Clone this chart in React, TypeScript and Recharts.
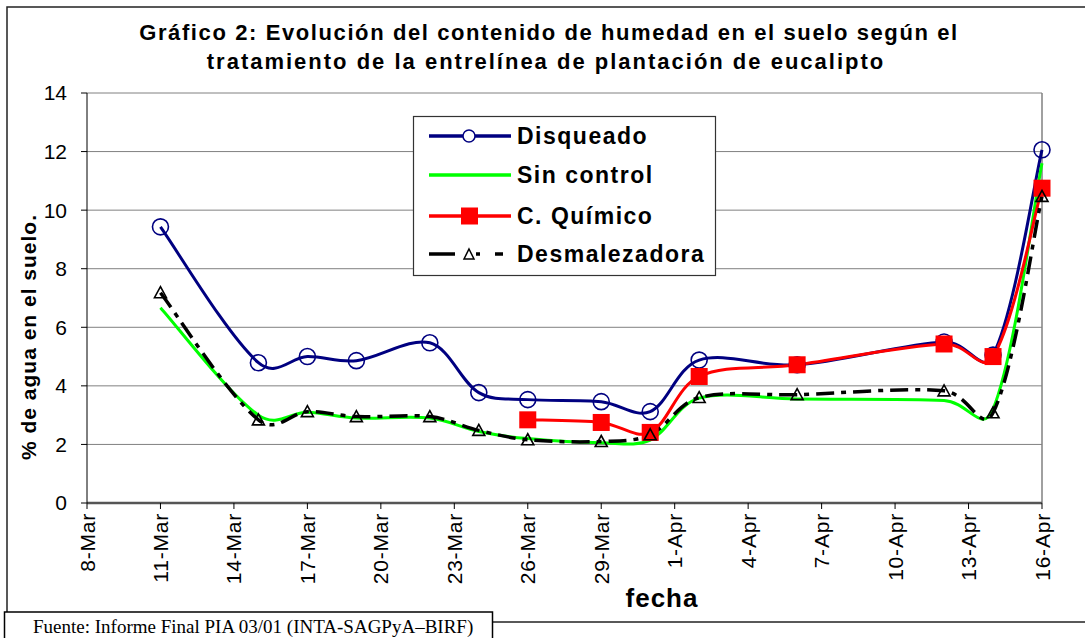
import React from 'react';
import { LineChart, Line, XAxis, YAxis, CartesianGrid, ReferenceLine } from 'recharts';

// fechas de muestreo y % de humedad por tratamiento
const fechas = ['11-Mar', '15-Mar', '17-Mar', '19-Mar', '22-Mar', '24-Mar', '26-Mar', '29-Mar', '31-Mar', '2-Apr', '6-Apr', '12-Apr', '14-Apr', '16-Apr'];
const disqueado = [9.43, 4.79, 5.0, 4.86, 5.47, 3.77, 3.53, 3.46, 3.12, 4.88, 4.72, 5.5, 5.05, 12.06];
const sinControl = [6.67, 3.0, 3.1, 2.9, 2.9, 2.44, 2.2, 2.06, 2.15, 3.58, 3.55, 3.5, 3.2, 11.6];
const quimico = [null, null, null, null, null, null, 2.84, 2.75, 2.41, 4.32, 4.72, 5.43, 5.0, 10.75];
const desmalezadora = [7.18, 2.84, 3.12, 2.95, 2.95, 2.48, 2.16, 2.1, 2.33, 3.6, 3.7, 3.83, 3.08, 10.47];

const xTickLabels = ['8-Mar', '11-Mar', '14-Mar', '17-Mar', '20-Mar', '23-Mar', '26-Mar', '29-Mar', '1-Apr', '4-Apr', '7-Apr', '10-Apr', '13-Apr', '16-Apr'];
const yTicks = [0, 2, 4, 6, 8, 10, 12, 14];
const nombres = ['Disqueado', 'Sin control', 'C. Químico', 'Desmalezadora'];

const ARIAL = 'Arial, "Liberation Sans", sans-serif';
const TIMES = '"Times New Roman", "Liberation Serif", serif';

// dias desde el 8-Mar
const toDay = (f: string) => {
  const [d, m] = f.split('-');
  return m === 'Mar' ? Number(d) - 8 : Number(d) + 23;
};

const data = fechas.map((f, i) => ({
  dia: toDay(f),
  disqueado: disqueado[i],
  sinControl: sinControl[i],
  quimico: quimico[i],
  desmalezadora: desmalezadora[i],
}));

// curva suavizada parecida a la de Excel
const excelSmooth = (context: any) => {
  let pts: number[][] = [];
  const dist = (a: number[], b: number[]) => Math.hypot(b[0] - a[0], b[1] - a[1]);
  return {
    areaStart() {},
    areaEnd() {},
    lineStart() {
      pts = [];
    },
    point(x: number, y: number) {
      pts.push([+x, +y]);
    },
    lineEnd() {
      const n = pts.length;
      if (!n) return;
      context.moveTo(pts[0][0], pts[0][1]);
      for (let i = 0; i < n - 1; i++) {
        const p0 = pts[Math.max(i - 1, 0)];
        const p1 = pts[i];
        const p2 = pts[i + 1];
        const p3 = pts[Math.min(i + 2, n - 1)];
        const d01 = dist(p0, p1);
        const d12 = dist(p1, p2);
        const d23 = dist(p2, p3);
        const f1 = i === 0 ? 1 / 6 : (1 / 6 + d12 / (d01 + d12) / 3) / 2;
        const f2 = i === n - 2 ? 1 / 6 : (1 / 6 + d12 / (d12 + d23) / 3) / 2;
        context.bezierCurveTo(
          p1[0] + (p2[0] - p0[0]) * f1,
          p1[1] + (p2[1] - p0[1]) * f1,
          p2[0] - (p3[0] - p1[0]) * f2,
          p2[1] - (p3[1] - p1[1]) * f2,
          p2[0],
          p2[1]
        );
      }
    },
  };
};

const CircleDot = (props: any) => {
  const { cx, cy, index } = props;
  if (cx == null || cy == null) return <g key={`c-${index}`} />;
  return <circle key={`c-${index}`} cx={cx} cy={cy} r={8} fill="none" stroke="#000080" strokeWidth={1.6} />;
};

const SquareDot = (props: any) => {
  const { cx, cy, index } = props;
  if (cx == null || cy == null) return <g key={`s-${index}`} />;
  return <rect key={`s-${index}`} x={cx - 8.5} y={cy - 8.5} width={17} height={17} fill="#FF0000" />;
};

const TriangleDot = (props: any) => {
  const { cx, cy, index } = props;
  if (cx == null || cy == null) return <g key={`t-${index}`} />;
  return (
    <path
      key={`t-${index}`}
      d={`M${cx},${cy - 6} L${cx + 6},${cy + 5} L${cx - 6},${cy + 5} Z`}
      fill="none"
      stroke="#000"
      strokeWidth={1.6}
    />
  );
};

const FechaTick = ({ x, y, payload }: any) => {
  const label = xTickLabels.find((t) => toDay(t) === payload.value) || '';
  return (
    <text
      x={x}
      y={y}
      transform={`rotate(-90 ${x} ${y})`}
      textAnchor="end"
      dy="0.36em"
      fontFamily={ARIAL}
      fontSize={21}
      letterSpacing={0.8}
      fill="#000"
    >
      {label}
    </text>
  );
};

const legendRows = [
  { y: 136, color: '#000080', dash: undefined, marker: 'circle' },
  { y: 175, color: '#00FF00', dash: undefined, marker: 'none' },
  { y: 216, color: '#FF0000', dash: undefined, marker: 'square' },
  { y: 254, color: '#000', dash: '26 21 4 15 8 100', marker: 'triangle' },
];

const App: React.FC = () => {
  return (
    <div style={{ position: 'absolute', left: 0, top: 0, width: 1085, height: 638, background: '#fff', overflow: 'hidden' }}>
      <LineChart width={1085} height={638} data={data} margin={{ top: 93, right: 43, bottom: 75, left: 27 }}>
        <CartesianGrid horizontal vertical={false} stroke="#808080" strokeWidth={1} />
        <XAxis
          type="number"
          dataKey="dia"
          domain={[0, 39]}
          ticks={xTickLabels.map(toDay)}
          tick={<FechaTick />}
          tickSize={6}
          tickMargin={4}
          height={60}
          axisLine={{ stroke: '#555', strokeWidth: 2.5 }}
          tickLine={{ stroke: '#000' }}
          interval={0}
        />
        <YAxis
          type="number"
          domain={[0, 14]}
          ticks={yTicks}
          width={60}
          tickSize={6}
          tickMargin={14}
          tick={{ fontFamily: ARIAL, fontSize: 21, fill: '#000' }}
          axisLine={{ stroke: '#000' }}
          tickLine={{ stroke: '#000' }}
          interval={0}
        />
        <ReferenceLine x={39} stroke="#808080" strokeWidth={1.5} />
        <Line
          dataKey="disqueado"
          name={nombres[0]}
          type={excelSmooth as any}
          stroke="#000080"
          strokeWidth={3}
          dot={CircleDot}
          activeDot={false}
          isAnimationActive={false}
        />
        <Line
          dataKey="sinControl"
          name={nombres[1]}
          type={excelSmooth as any}
          stroke="#00FF00"
          strokeWidth={3}
          dot={false}
          activeDot={false}
          isAnimationActive={false}
        />
        <Line
          dataKey="quimico"
          name={nombres[2]}
          type={excelSmooth as any}
          stroke="#FF0000"
          strokeWidth={3}
          dot={SquareDot}
          activeDot={false}
          connectNulls
          isAnimationActive={false}
        />
        <Line
          dataKey="desmalezadora"
          name={nombres[3]}
          type={excelSmooth as any}
          stroke="#000"
          strokeWidth={3.5}
          strokeDasharray="18 7 5 7"
          dot={TriangleDot}
          activeDot={false}
          isAnimationActive={false}
        />
      </LineChart>

      <svg width={1085} height={638} style={{ position: 'absolute', left: 0, top: 0, pointerEvents: 'none' }}>
        {/* marco del grafico */}
        <rect x={7} y={7} width={1100} height={615} fill="none" stroke="#222" strokeWidth={1.5} />

        <text x={549} y={40} textAnchor="middle" fontFamily={ARIAL} fontWeight="bold" fontSize={22} letterSpacing={1.6} fill="#000">
          Gráfico 2: Evolución del contenido de humedad en el suelo según el
        </text>
        <text x={546} y={69} textAnchor="middle" fontFamily={ARIAL} fontWeight="bold" fontSize={22} letterSpacing={2} fill="#000">
          tratamiento de la entrelínea de plantación de eucalipto
        </text>

        <text
          x={36}
          y={337}
          transform="rotate(-90 36 337)"
          textAnchor="middle"
          fontFamily={ARIAL}
          fontWeight="bold"
          fontSize={21}
          letterSpacing={1}
          fill="#000"
        >
          % de agua en el suelo.
        </text>

        <text x={662} y={607} textAnchor="middle" fontFamily={ARIAL} fontWeight="bold" fontSize={26} letterSpacing={1} fill="#000">
          fecha
        </text>

        {/* leyenda */}
        <rect x={413.5} y={116.5} width={302} height={159} fill="#fff" stroke="#333" strokeWidth={1.2} />
        {legendRows.map((r, i) => (
          <g key={nombres[i]}>
            <line x1={429} x2={511} y1={r.y} y2={r.y} stroke={r.color} strokeWidth={3.5} strokeDasharray={r.dash} />
            {r.marker === 'circle' && <circle cx={469} cy={r.y} r={6} fill="#fff" stroke="#000080" strokeWidth={1.5} />}
            {r.marker === 'square' && <rect x={461} y={r.y - 8.5} width={17} height={17} fill="#FF0000" />}
            {r.marker === 'triangle' && (
              <path d={`M469,${r.y - 5} L474,${r.y + 5} L464,${r.y + 5} Z`} fill="#fff" stroke="#000" strokeWidth={1.5} />
            )}
            <text x={517} y={r.y} dy="0.36em" fontFamily={ARIAL} fontWeight="bold" fontSize={23} letterSpacing={1.5} fill="#000">
              {nombres[i]}
            </text>
          </g>
        ))}

        {/* fuente */}
        <rect x={4.5} y={612} width={488} height={40} fill="#fff" stroke="#000" strokeWidth={1.5} />
        <text x={33} y={633} fontFamily={TIMES} fontSize={19} fill="#000">
          Fuente: Informe Final PIA 03/01 (INTA-SAGPyA–BIRF)
        </text>
      </svg>
    </div>
  );
};

export default App;
